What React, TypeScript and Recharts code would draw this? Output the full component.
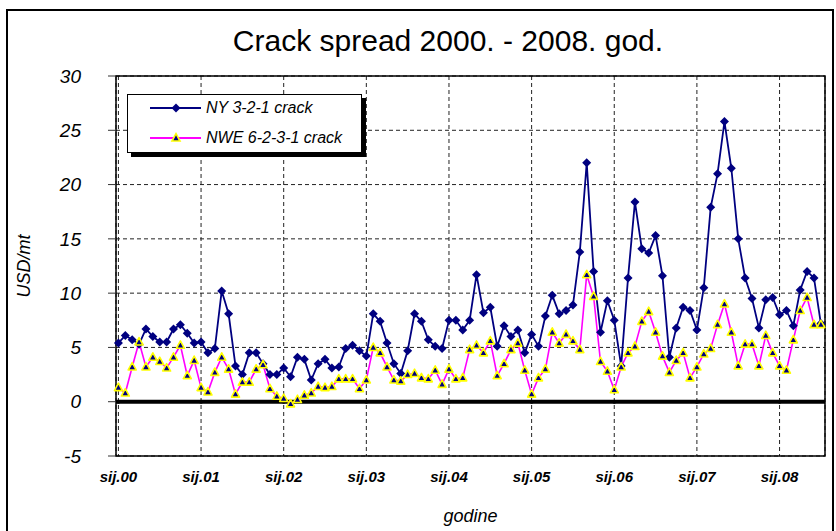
import {
  LineChart,
  Line,
  XAxis,
  YAxis,
  CartesianGrid,
  ReferenceArea,
  ReferenceLine,
  ReferenceDot,
  Legend,
} from "recharts";

const FONT = "'Liberation Sans', Arial, sans-serif";

// one tick per January
const yearLabels = ["sij.00", "sij.01", "sij.02", "sij.03", "sij.04", "sij.05", "sij.06", "sij.07", "sij.08"];

const yTicks = [-5, 0, 5, 10, 15, 20, 25, 30];

// monthly values, sij.2000 - srp.2008 (USD/mt)
const nyCrack = [
  5.4, 6.1, 5.7, 5.3, 6.7, 6.0, 5.5, 5.5, 6.7, 7.1, 6.3, 5.4,
  5.5, 4.5, 4.9, 10.2, 8.1, 3.3, 2.5, 4.5, 4.5, 3.5, 2.5, 2.5,
  3.1, 2.3, 4.1, 3.9, 2.0, 3.5, 3.9, 3.1, 3.2, 4.9, 5.2, 4.7,
  4.2, 8.1, 7.4, 5.4, 3.5, 2.6, 4.7, 8.1, 7.4, 5.7, 5.1, 4.9,
  7.5, 7.5, 6.6, 7.5, 11.7, 8.2, 8.7, 5.1, 7.0, 6.0, 6.6, 4.5,
  6.2, 5.1, 7.9, 9.8, 8.1, 8.4, 8.9, 13.8, 22.0, 12.0, 6.4, 9.3,
  7.5, 3.3, 11.4, 18.4, 14.1, 13.7, 15.3, 11.6, 4.1, 6.8, 8.7, 8.4,
  6.6, 10.5, 17.9, 21.0, 25.8, 21.5, 15.0, 11.4, 9.5, 6.8, 9.4, 9.6,
  8.0, 8.4, 7.0, 10.3, 12.0, 11.4, 7.2,
];

const nweCrack = [
  1.3, 0.8, 3.2, 5.5, 3.2, 4.1, 3.7, 3.1, 4.1, 5.2, 2.4, 3.8,
  1.3, 0.9, 2.7, 4.1, 3.0, 0.7, 1.8, 1.8, 3.0, 3.4, 1.2, 0.5,
  0.3, -0.2, 0.2, 0.6, 0.8, 1.4, 1.3, 1.4, 2.1, 2.1, 2.1, 1.2,
  2.0, 5.0, 4.5, 3.2, 2.0, 1.9, 2.5, 2.6, 2.2, 2.1, 2.9, 1.6,
  3.0, 2.1, 2.2, 4.8, 5.2, 4.5, 5.6, 2.4, 3.5, 4.8, 5.4, 2.9,
  0.7, 2.2, 3.0, 6.4, 5.4, 6.2, 5.6, 4.8, 11.7, 9.7, 3.7, 2.8,
  1.1, 3.2, 4.5, 5.1, 7.4, 8.3, 6.4, 4.2, 2.7, 3.8, 4.5, 2.2,
  3.2, 4.4, 4.9, 7.1, 9.0, 6.4, 3.3, 5.3, 5.3, 3.3, 6.1, 4.5,
  3.3, 2.9, 5.7, 8.4, 9.6, 7.1, 7.1,
];

const xTicks = yearLabels.map((_, k) => k * 12);
const data = nyCrack.map((v, i) => ({ month: i, ny: v, nwe: nweCrack[i] }));

const NAVY = "#000080";
const MAGENTA = "#FF00FF";

function diamond(cx: number, cy: number, r: number) {
  return `M${cx},${cy - r}L${cx + r},${cy}L${cx},${cy + r}L${cx - r},${cy}Z`;
}
function triangle(cx: number, cy: number, r: number) {
  return `M${cx},${cy - r * 1.1}L${cx + r},${cy + r * 0.75}L${cx - r},${cy + r * 0.75}Z`;
}

const renderDiamond = (p: any) => {
  if (p.cx == null || p.cy == null) return <g key={`d${p.index}`} />;
  return <path key={`d${p.index}`} d={diamond(p.cx, p.cy, 4.5)} fill={NAVY} />;
};

const renderTriangle = (p: any) => {
  if (p.cx == null || p.cy == null) return <g key={`t${p.index}`} />;
  return (
    <path
      key={`t${p.index}`}
      d={triangle(p.cx, p.cy, 4)}
      fill={NAVY}
      stroke="#FFFF00"
      strokeWidth={1.6}
      strokeLinejoin="round"
    />
  );
};

function LegendBox() {
  const row = (label: string, color: string, marker: "d" | "t", top: number) => (
    <div style={{ position: "absolute", left: 0, top, height: 20, width: 233 }}>
      <svg width={80} height={20} style={{ position: "absolute", left: 0, top: 0 }}>
        <line x1={22} y1={10} x2={73} y2={10} stroke={color} strokeWidth={2} />
        {marker === "d" ? (
          <path d={diamond(48, 10, 4.5)} fill={NAVY} />
        ) : (
          <path d={triangle(48, 10, 4)} fill={NAVY} stroke="#FFFF00" strokeWidth={1.6} />
        )}
      </svg>
      <span
        style={{
          position: "absolute",
          left: 78,
          top: 0,
          lineHeight: "20px",
          fontSize: 16,
          fontStyle: "italic",
          fontFamily: FONT,
          color: "#000",
          whiteSpace: "nowrap",
        }}
      >
        {label}
      </span>
    </div>
  );
  return (
    <div
      style={{
        position: "relative",
        width: 233,
        height: 57,
        border: "1px solid #000",
        boxShadow: "4px 4px 0 #000",
        background: "#fff",
      }}
    >
      {row("NY 3-2-1 crack", NAVY, "d", 3)}
      {row("NWE 6-2-3-1 crack", MAGENTA, "t", 33)}
    </div>
  );
}

export default function App() {
  return (
    <div
      style={{
        position: "fixed",
        left: 0,
        top: 0,
        width: 836,
        height: 531,
        background: "#fff",
        overflow: "hidden",
      }}
    >
      <div
        style={{
          position: "absolute",
          left: 6,
          top: 9,
          width: 824,
          height: 560,
          border: "2px solid #000",
        }}
      />
      <div
        style={{
          position: "absolute",
          left: 448,
          top: 24,
          transform: "translateX(-50%)",
          fontFamily: FONT,
          fontSize: 30,
          lineHeight: "34px",
          whiteSpace: "nowrap",
          color: "#000",
        }}
      >
        Crack spread 2000. - 2008. god.
      </div>
      <LineChart
        width={836}
        height={531}
        data={data}
        margin={{ top: 76, right: 11, left: 0, bottom: 0 }}
        style={{ position: "absolute", left: 0, top: 0 }}
      >
        <CartesianGrid stroke="#222" strokeDasharray="4 3" strokeWidth={1} />
        <XAxis
          dataKey="month"
          type="number"
          domain={[-0.35, 102.6]}
          ticks={xTicks}
          tickFormatter={(v: number) => yearLabels[Math.round(v / 12)]}
          height={75}
          axisLine={false}
          tickLine={false}
          tickSize={0}
          tickMargin={15}
          interval={0}
          tick={{ fill: "#000", fontSize: 15, fontStyle: "italic", fontWeight: "bold", fontFamily: FONT }}
          label={{
            value: "godine",
            position: "insideBottom",
            offset: 9,
            fill: "#000",
            fontSize: 18,
            fontStyle: "italic",
            fontFamily: FONT,
          }}
        />
        <YAxis
          type="number"
          domain={[-5, 30]}
          ticks={yTicks}
          width={116}
          axisLine={false}
          tickLine={{ stroke: "#333" }}
          tickSize={8}
          tickMargin={27}
          interval={0}
          tick={{ fill: "#000", fontSize: 19, fontStyle: "italic", fontFamily: FONT }}
          label={{
            content: (p: any) => {
              const vb = p.viewBox || { y: 76, height: 380 };
              const cy = vb.y + vb.height / 2;
              return (
                <text
                  x={24}
                  y={cy}
                  transform={`rotate(-90, 24, ${cy})`}
                  textAnchor="middle"
                  dominantBaseline="central"
                  fontSize={18}
                  fontStyle="italic"
                  fontFamily={FONT}
                  fill="#000"
                >
                  USD/mt
                </text>
              );
            },
          }}
        />
        <ReferenceArea
          x1={-0.35}
          x2={102.6}
          y1={-5}
          y2={30}
          fill="none"
          stroke="#000"
          strokeWidth={1.5}
          fillOpacity={0}
        />
        <ReferenceLine y={0} stroke="#000" strokeWidth={4} />
        {xTicks.map((t) => (
          <ReferenceDot key={t} x={t} y={0} r={2} fill="#000" stroke="none" />
        ))}
        <Line
          type="linear"
          dataKey="ny"
          name="NY 3-2-1 crack"
          stroke={NAVY}
          strokeWidth={1.8}
          dot={renderDiamond}
          activeDot={false}
          isAnimationActive={false}
        />
        <Line
          type="linear"
          dataKey="nwe"
          name="NWE 6-2-3-1 crack"
          stroke={MAGENTA}
          strokeWidth={1.6}
          dot={renderTriangle}
          activeDot={false}
          isAnimationActive={false}
        />
        <Legend
          layout="vertical"
          align="center"
          verticalAlign="middle"
          content={() => <LegendBox />}
          wrapperStyle={{ position: "absolute", left: 127, top: 94, width: 240, height: 62 }}
        />
      </LineChart>
    </div>
  );
}
